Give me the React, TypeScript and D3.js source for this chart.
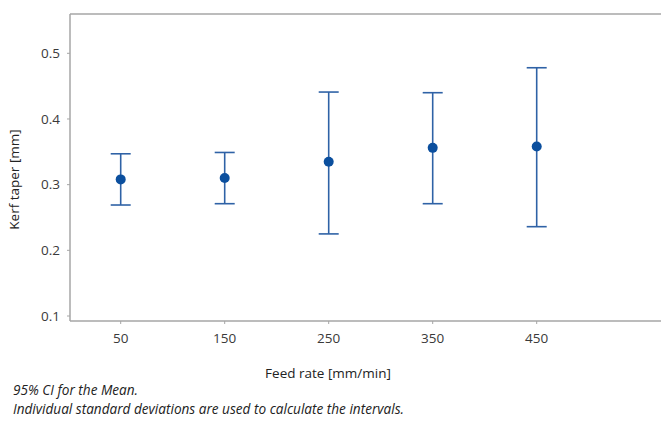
import { useMemo } from "react";
import * as d3 from "d3";

// Kerf taper vs feed rate, mean with 95% CI
const FEED_RATES = ["50", "150", "250", "350", "450"];
const MEANS = [0.308, 0.310, 0.335, 0.356, 0.358];
const CI_LOW = [0.269, 0.271, 0.225, 0.271, 0.236];
const CI_HIGH = [0.347, 0.349, 0.441, 0.440, 0.478];
const Y_TICKS = [0.1, 0.2, 0.3, 0.4, 0.5];

const W = 661;
const H = 423;
const FRAME = { left: 70, top: 14, right: 661, bottom: 321 };
const FONT = "'Open Sans', 'Noto Sans', sans-serif";
const AXIS = "#a6a6a6";
const LINE = "#2f62a6";
const DOT = "#0b4f9e";

export default function App() {
  const x = useMemo(
    () => d3.scalePoint<string>().domain(FEED_RATES).range([120.7, 536.7]),
    []
  );
  const y = useMemo(
    () => d3.scaleLinear().domain([0.1, 0.5]).range([316, 53.3]),
    []
  );

  return (
    <svg
      width={W}
      height={H}
      style={{ position: "absolute", left: 0, top: 0, background: "#fff" }}
    >
      {/* frame: top, left, bottom */}
      <line x1={FRAME.left} x2={FRAME.right} y1={FRAME.top} y2={FRAME.top} stroke={AXIS} strokeWidth={1.5} />
      <line x1={FRAME.left} x2={FRAME.left} y1={FRAME.top} y2={FRAME.bottom} stroke={AXIS} strokeWidth={1.5} />
      <line x1={FRAME.left} x2={FRAME.right} y1={FRAME.bottom} y2={FRAME.bottom} stroke={AXIS} strokeWidth={1.5} />

      {/* y ticks */}
      {Y_TICKS.map((t) => (
        <g key={t}>
          <line x1={FRAME.left - 3} x2={FRAME.left} y1={y(t)} y2={y(t)} stroke={AXIS} strokeWidth={1} />
          <text
            x={FRAME.left - 10}
            y={y(t)}
            dy="0.35em"
            textAnchor="end"
            fontSize={13.5}
            fontFamily={FONT}
            fill="#3a3a3a"
          >
            {d3.format(".1f")(t)}
          </text>
        </g>
      ))}

      {/* x ticks */}
      {FEED_RATES.map((c) => (
        <g key={c}>
          <line x1={x(c)} x2={x(c)} y1={FRAME.bottom} y2={FRAME.bottom + 3} stroke={AXIS} strokeWidth={1} />
          <text
            x={x(c)}
            y={FRAME.bottom + 22}
            textAnchor="middle"
            fontSize={13.5}
            fontFamily={FONT}
            fill="#3a3a3a"
          >
            {c}
          </text>
        </g>
      ))}

      {/* error bars */}
      {FEED_RATES.map((c, i) => {
        const cx = x(c) ?? 0;
        return (
          <g key={`e${c}`}>
            <line x1={cx} x2={cx} y1={y(CI_HIGH[i])} y2={y(CI_LOW[i])} stroke={LINE} strokeWidth={1.6} />
            <line x1={cx - 10} x2={cx + 10} y1={y(CI_HIGH[i])} y2={y(CI_HIGH[i])} stroke={LINE} strokeWidth={1.6} />
            <line x1={cx - 10} x2={cx + 10} y1={y(CI_LOW[i])} y2={y(CI_LOW[i])} stroke={LINE} strokeWidth={1.6} />
            <circle cx={cx} cy={y(MEANS[i])} r={5} fill={DOT} />
          </g>
        );
      })}

      {/* axis titles */}
      <text
        transform={`translate(19,${(FRAME.top + FRAME.bottom) / 2 + 12}) rotate(-90)`}
        textAnchor="middle"
        fontSize={13.5}
        fontFamily={FONT}
        fill="#222"
      >
        Kerf taper [mm]
      </text>
      <text x={328} y={378} textAnchor="middle" fontSize={13.5} fontFamily={FONT} fill="#222">
        Feed  rate [mm/min]
      </text>

      {/* footnote */}
      <text x={13} y={395} fontSize={13.6} fontStyle="italic" fontFamily={FONT} fill="#222">
        95% CI for the Mean.
      </text>
      <text x={13} y={414} fontSize={13.6} fontStyle="italic" fontFamily={FONT} fill="#222">
        Individual standard deviations are used to calculate the intervals.
      </text>
    </svg>
  );
}
